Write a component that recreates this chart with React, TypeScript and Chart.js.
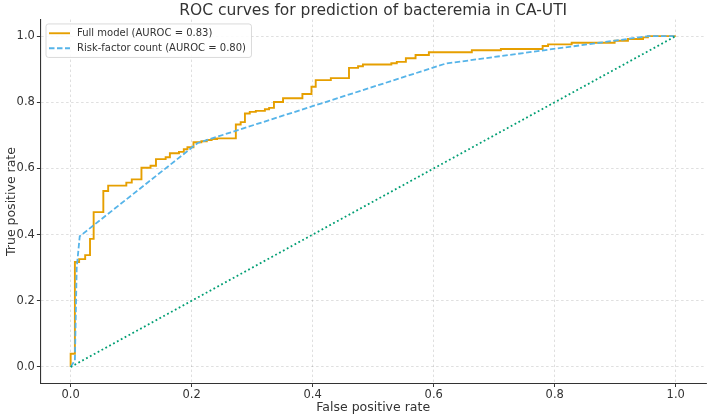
import { useEffect, useRef } from 'react';
import { Chart, registerables } from 'chart.js';

Chart.register(...registerables);

const FONT = "'DejaVu Sans', 'Noto Sans', sans-serif";
const TEXT_COLOR = '#333333';

const TITLE = 'ROC curves for prediction of bacteremia in CA-UTI';
const X_LABEL = 'False positive rate';
const Y_LABEL = 'True positive rate';
const AXIS_TICKS = [0, 0.2, 0.4, 0.6, 0.8, 1.0];

// Full multivariable model: ROC operating points (each step = new threshold)
const FULL_LABEL = 'Full model (AUROC = 0.83)';
const FULL_FPR = [
  0, 0, 0.007, 0.014, 0.024, 0.032, 0.038, 0.054, 0.062, 0.092,
  0.101, 0.117, 0.132, 0.141, 0.157, 0.164, 0.179, 0.187, 0.193, 0.203,
  0.216, 0.225, 0.233, 0.242, 0.273, 0.281, 0.288, 0.296, 0.306, 0.321,
  0.328, 0.336, 0.351, 0.383, 0.398, 0.405, 0.43, 0.46, 0.475, 0.483,
  0.53, 0.539, 0.554, 0.57, 0.592, 0.663, 0.711, 0.78, 0.789, 0.828,
  0.899, 0.921, 0.946, 0.954, 1.0,
];
const FULL_TPR = [
  0, 0.04, 0.317, 0.326, 0.338, 0.387, 0.468, 0.532, 0.548, 0.557,
  0.567, 0.602, 0.608, 0.628, 0.634, 0.646, 0.65, 0.658, 0.664, 0.679,
  0.682, 0.686, 0.689, 0.691, 0.733, 0.74, 0.766, 0.771, 0.774, 0.779,
  0.783, 0.801, 0.812, 0.825, 0.847, 0.867, 0.873, 0.904, 0.909, 0.914,
  0.918, 0.922, 0.933, 0.943, 0.951, 0.957, 0.961, 0.97, 0.975, 0.98,
  0.986, 0.991, 0.996, 1.0, 1.0,
];

// Simple risk-factor count score: few distinct thresholds
const RISK_LABEL = 'Risk-factor count (AUROC = 0.80)';
const RISK_FPR = [0, 0.007, 0.01, 0.015, 0.21, 0.62, 0.955, 1.0];
const RISK_TPR = [0, 0.02, 0.3, 0.395, 0.677, 0.917, 1.0, 1.0];

// Chance line
const CHANCE_FPR = [0, 1];
const CHANCE_TPR = [0, 1];

const ORANGE = '#E69F00';
const SKY = '#56B4E9';
const GREEN = '#009E73';

const toPoints = (xs: number[], ys: number[]) => xs.map((x, i) => ({ x, y: ys[i] }));

// Legend box in the upper-left corner of the plot area
const rocLegend = {
  id: 'rocLegend',
  afterDraw(chart: any) {
    const { ctx, chartArea } = chart;
    const items = chart.data.datasets.filter((d: any) => d.label);
    ctx.save();
    ctx.font = `10px ${FONT}`;
    const textW = Math.max(...items.map((d: any) => ctx.measureText(d.label).width));
    const x0 = chartArea.left + 5.6;
    const y0 = chartArea.top + 4.4;
    const w = 31 + textW + 5.5;
    const h = 33.5;
    ctx.beginPath();
    ctx.roundRect(x0, y0, w, h, 2.5);
    ctx.fillStyle = 'rgba(255,255,255,0.85)';
    ctx.fill();
    ctx.lineWidth = 0.8;
    ctx.strokeStyle = '#d0d0d0';
    ctx.stroke();
    items.forEach((d: any, i: number) => {
      const cy = y0 + 9.3 + i * 15;
      ctx.beginPath();
      ctx.setLineDash(d.borderDash || []);
      ctx.strokeStyle = d.borderColor;
      ctx.lineWidth = d.borderWidth;
      ctx.moveTo(x0 + 3, cy);
      ctx.lineTo(x0 + 24, cy);
      ctx.stroke();
      ctx.setLineDash([]);
      ctx.fillStyle = TEXT_COLOR;
      ctx.textAlign = 'left';
      ctx.textBaseline = 'middle';
      ctx.fillText(d.label, x0 + 31, cy);
    });
    ctx.restore();
  },
};

const tickFont = { family: FONT, size: 11.5 };
const axisTitleFont = { family: FONT, size: 12.5 };

export default function App() {
  const canvasRef = useRef<HTMLCanvasElement | null>(null);

  useEffect(() => {
    const canvas = canvasRef.current;
    if (!canvas) return;
    const chart = new Chart(canvas, {
      type: 'scatter',
      data: {
        datasets: [
          {
            label: FULL_LABEL,
            data: toPoints(FULL_FPR, FULL_TPR),
            showLine: true,
            stepped: 'before',
            borderColor: ORANGE,
            backgroundColor: ORANGE,
            borderWidth: 1.9,
            pointRadius: 0,
            fill: false,
            order: 3,
          },
          {
            label: RISK_LABEL,
            data: toPoints(RISK_FPR, RISK_TPR),
            showLine: true,
            borderColor: SKY,
            backgroundColor: SKY,
            borderWidth: 1.8,
            borderDash: [5.5, 2.5],
            pointRadius: 0,
            fill: false,
            order: 2,
          },
          {
            data: toPoints(CHANCE_FPR, CHANCE_TPR),
            showLine: true,
            borderColor: GREEN,
            backgroundColor: GREEN,
            borderWidth: 1.8,
            borderDash: [1.8, 2.6],
            pointRadius: 0,
            fill: false,
            order: 1,
          },
        ],
      },
      options: {
        responsive: false,
        animation: false,
        events: [],
        layout: { padding: { top: 0, left: 0, right: 2, bottom: 0 } },
        plugins: {
          legend: { display: false },
          tooltip: { enabled: false },
          title: {
            display: true,
            text: TITLE,
            color: TEXT_COLOR,
            fullSize: false,
            font: { family: FONT, size: 15.5, weight: 'normal', lineHeight: 1.1 },
            padding: { top: 2.5, bottom: 0 },
          },
        },
        scales: {
          x: {
            type: 'linear',
            min: -0.05,
            max: 1.05,
            afterBuildTicks: (s: any) => {
              s.ticks = AXIS_TICKS.map((v) => ({ value: v }));
            },
            afterFit: (s: any) => {
              s.height = 32.5;
            },
            ticks: {
              callback: (v: any) => Number(v).toFixed(1),
              color: TEXT_COLOR,
              font: tickFont,
              padding: 1,
              maxRotation: 0,
              autoSkip: false,
            },
            grid: {
              color: 'rgba(0,0,0,0.16)',
              lineWidth: 0.8,
              tickColor: TEXT_COLOR,
              tickLength: 3.5,
              tickWidth: 1,
            },
            border: { color: TEXT_COLOR, width: 1.1, dash: [2.5, 2.5] },
            title: {
              display: true,
              text: X_LABEL,
              color: TEXT_COLOR,
              font: axisTitleFont,
              padding: { top: 0, bottom: 1 },
            },
          },
          y: {
            type: 'linear',
            min: -0.05,
            max: 1.05,
            afterBuildTicks: (s: any) => {
              s.ticks = AXIS_TICKS.map((v) => ({ value: v }));
            },
            afterFit: (s: any) => {
              s.width = 40.4;
            },
            ticks: {
              callback: (v: any) => Number(v).toFixed(1),
              color: TEXT_COLOR,
              font: tickFont,
              padding: 2,
              autoSkip: false,
            },
            grid: {
              color: 'rgba(0,0,0,0.16)',
              lineWidth: 0.8,
              tickColor: TEXT_COLOR,
              tickLength: 3.5,
              tickWidth: 1,
            },
            border: { color: TEXT_COLOR, width: 1.1, dash: [2.5, 2.5] },
            title: {
              display: true,
              text: Y_LABEL,
              color: TEXT_COLOR,
              font: axisTitleFont,
              padding: { top: 4.5, bottom: 0 },
            },
          },
        },
      },
      plugins: [rocLegend],
    } as any);
    return () => chart.destroy();
  }, []);

  return (
    <div style={{ position: 'fixed', left: 0, top: 0, width: 708, height: 416, background: '#fff' }}>
      <canvas ref={canvasRef} width={708} height={416} />
    </div>
  );
}
